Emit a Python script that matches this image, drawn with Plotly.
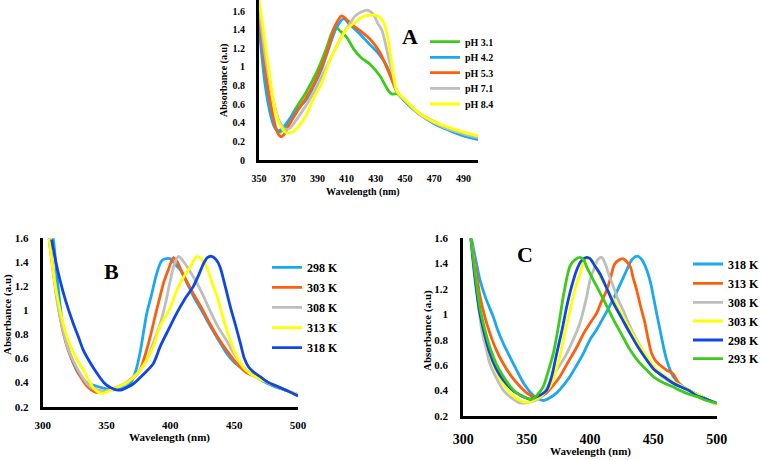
import plotly.graph_objects as go

W, H = 764, 460
SERIF = "Liberation Serif"

# ---------------- Panel A : pH ----------------
a_names = ["pH 3.1", "pH 4.2", "pH 5.3", "pH 7.1", "pH 8.4"]
a_colors = ["#3DCB1A", "#1AA8F0", "#FF5E0E", "#BEBEBE", "#FFFF00"]

a_wl_31 = [350, 354, 358, 362, 364.5, 368, 375, 382, 390, 396, 402, 406, 410, 415, 420, 426, 433, 438, 441, 445, 450, 460, 470, 480, 490, 500]
a_ab_31 = [1.50, 0.90, 0.52, 0.33, 0.30, 0.36, 0.55, 0.72, 0.96, 1.19, 1.43, 1.38, 1.32, 1.19, 1.10, 1.03, 0.90, 0.76, 0.71, 0.71, 0.63, 0.49, 0.40, 0.33, 0.28, 0.24]

a_wl_42 = [350, 354, 358, 361, 363, 366, 370, 376, 382, 388, 393, 398, 403, 408, 412, 418, 426, 432, 437.6, 441, 444.5, 450, 460, 470, 480, 490, 500]
a_ab_42 = [1.45, 0.83, 0.48, 0.34, 0.31, 0.34, 0.42, 0.54, 0.64, 0.81, 0.98, 1.21, 1.42, 1.52, 1.46, 1.37, 1.24, 1.14, 1.01, 0.88, 0.74, 0.63, 0.49, 0.39, 0.32, 0.26, 0.22]

a_wl_53 = [350, 354, 358, 362, 365, 367, 370, 376, 382, 388, 393, 398, 402, 406.7, 410, 415, 420, 426, 433, 440, 444.5, 450, 460, 470, 480, 490, 500]
a_ab_53 = [1.62, 1.01, 0.60, 0.32, 0.25, 0.27, 0.36, 0.52, 0.66, 0.83, 1.01, 1.23, 1.44, 1.55, 1.51, 1.44, 1.38, 1.30, 1.15, 0.90, 0.73, 0.64, 0.50, 0.41, 0.34, 0.29, 0.25]

a_wl_71 = [350, 354, 358.7, 363, 366, 368, 371, 376, 382, 388, 393, 400, 406.7, 412, 416, 420, 424, 428.6, 431, 434.3, 437, 439, 442, 444.5, 450, 460, 470, 480, 490, 500]
a_ab_71 = [1.65, 1.15, 0.72, 0.45, 0.36, 0.33, 0.34, 0.44, 0.58, 0.74, 0.90, 1.12, 1.33, 1.46, 1.55, 1.59, 1.61, 1.56, 1.48, 1.39, 1.22, 1.08, 0.90, 0.73, 0.64, 0.49, 0.40, 0.33, 0.28, 0.24]

a_wl_84 = [350, 353, 356.4, 361, 365, 369, 373, 377, 382, 387, 393, 398, 404.4, 410, 415.9, 421, 425, 431, 435.3, 437, 438.8, 440.5, 442.2, 444.5, 450, 460, 470, 480, 490, 500]
a_ab_84 = [1.72, 1.40, 1.01, 0.54, 0.36, 0.29, 0.30, 0.36, 0.47, 0.65, 0.83, 1.05, 1.26, 1.41, 1.48, 1.54, 1.555, 1.55, 1.48, 1.40, 1.26, 1.08, 0.90, 0.74, 0.65, 0.50, 0.41, 0.35, 0.30, 0.26]

a_x = [a_wl_31, a_wl_42, a_wl_53, a_wl_71, a_wl_84]
a_y = [a_ab_31, a_ab_42, a_ab_53, a_ab_71, a_ab_84]
a_xticks = [350, 370, 390, 410, 430, 450, 470, 490]
a_yticks = [0, 0.2, 0.4, 0.6, 0.8, 1, 1.2, 1.4, 1.6]

# ---------------- Panel B : temperature ----------------
b_names = ["298 K", "303 K", "308 K", "313 K", "318 K"]
b_colors = ["#1AA8F0", "#FF5E0E", "#BEBEBE", "#FFFF00", "#1046E8"]

b_wl_298 = [305, 308.3, 312, 316.2, 320, 324, 329, 334.5, 342.4, 349, 355.4, 362, 368.6, 373, 376.3, 379, 381.6, 385, 389.4, 393, 396, 400, 404, 407.7, 413, 418, 425, 431.2, 438, 444.3, 450, 457.3, 465, 475, 483.5, 492, 500]
b_ab_298 = [1.75, 1.59, 1.20, 0.84, 0.68, 0.56, 0.46, 0.40, 0.37, 0.35, 0.34, 0.35, 0.39, 0.50, 0.65, 0.82, 0.98, 1.12, 1.31, 1.41, 1.43, 1.43, 1.38, 1.34, 1.23, 1.12, 0.99, 0.87, 0.75, 0.64, 0.57, 0.51, 0.46, 0.40, 0.36, 0.33, 0.29]

b_wl_303 = [305, 308, 312, 316, 320, 324, 329, 334, 338, 342, 346, 350, 355, 360, 366, 371, 376, 380, 384.2, 388, 392, 395, 398.5, 402.4, 405, 410, 418, 425, 431, 437, 444, 452, 460, 467.8, 475, 483.5, 492, 500]
b_ab_303 = [1.60, 1.35, 1.05, 0.82, 0.67, 0.57, 0.46, 0.38, 0.34, 0.32, 0.32, 0.33, 0.35, 0.37, 0.40, 0.44, 0.50, 0.62, 0.78, 0.95, 1.12, 1.24, 1.34, 1.44, 1.41, 1.30, 1.14, 1.01, 0.89, 0.78, 0.67, 0.56, 0.48, 0.45, 0.41, 0.37, 0.33, 0.30]

b_wl_308 = [305, 308, 312, 316, 320, 324, 329, 334, 338, 343, 348, 353, 358, 364, 370, 376, 381.6, 387, 392, 396, 400, 403, 406.4, 410, 418, 425, 431, 437, 444, 450, 457, 465, 475, 483.5, 492, 500]
b_ab_308 = [1.60, 1.33, 1.03, 0.83, 0.68, 0.58, 0.48, 0.40, 0.36, 0.34, 0.33, 0.34, 0.36, 0.39, 0.44, 0.50, 0.59, 0.74, 0.89, 1.05, 1.25, 1.38, 1.45, 1.41, 1.28, 1.14, 1.00, 0.87, 0.75, 0.64, 0.53, 0.46, 0.41, 0.37, 0.33, 0.30]

b_wl_313 = [305, 310, 316, 320, 324, 328, 331.8, 336, 341, 346.3, 352, 358, 365.9, 371, 376, 381, 386.7, 392, 399.8, 405.1, 410, 415.5, 420.8, 424, 428.6, 432, 436.5, 441, 446.9, 452, 457, 462, 470, 483.5, 492, 500]
b_ab_313 = [1.60, 1.20, 0.89, 0.75, 0.65, 0.57, 0.51, 0.42, 0.34, 0.31, 0.33, 0.36, 0.40, 0.44, 0.50, 0.58, 0.70, 0.87, 1.02, 1.17, 1.27, 1.36, 1.45, 1.43, 1.36, 1.25, 1.12, 0.95, 0.75, 0.62, 0.53, 0.48, 0.43, 0.37, 0.33, 0.30]

b_wl_318 = [307, 310, 313.6, 318, 324, 328, 331.8, 337, 342.4, 348, 353, 358, 362, 366, 371, 378, 386.7, 392, 398.5, 405.1, 411, 418, 422, 426, 429, 432.5, 436, 439, 443, 447, 451, 454.8, 458, 461.3, 465, 470.4, 477, 483.5, 492, 500]
b_ab_318 = [1.59, 1.42, 1.25, 1.08, 0.89, 0.78, 0.67, 0.57, 0.48, 0.40, 0.36, 0.34, 0.34, 0.36, 0.39, 0.46, 0.56, 0.70, 0.84, 0.98, 1.09, 1.20, 1.29, 1.39, 1.44, 1.45, 1.42, 1.36, 1.20, 1.03, 0.88, 0.73, 0.60, 0.53, 0.49, 0.45, 0.40, 0.37, 0.33, 0.29]

b_x = [b_wl_298, b_wl_303, b_wl_308, b_wl_313, b_wl_318]
b_y = [b_ab_298, b_ab_303, b_ab_308, b_ab_313, b_ab_318]

# ---------------- Panel C : temperature ----------------
c_names = ["318 K", "313 K", "308 K", "303 K", "298 K", "293 K"]
c_colors = ["#1AA8F0", "#FF5E0E", "#BEBEBE", "#FFFF00", "#1046E8", "#3DCB1A"]

c_wl_318 = [306.6, 310, 313.2, 318, 323.7, 327, 331.6, 337, 342.1, 348, 355.3, 360, 363.1, 368, 373.7, 379, 384.2, 389, 394.7, 400, 405.3, 412, 418.4, 424, 429, 433, 437.3, 441, 444.8, 448, 450, 455.2, 460.5, 465.7, 471, 478, 484, 492, 500]
c_ab_318 = [1.59, 1.42, 1.27, 1.12, 0.98, 0.88, 0.77, 0.66, 0.56, 0.45, 0.36, 0.33, 0.32, 0.34, 0.38, 0.44, 0.51, 0.59, 0.69, 0.80, 0.88, 1.00, 1.12, 1.24, 1.35, 1.43, 1.46, 1.43, 1.35, 1.24, 1.14, 0.88, 0.64, 0.51, 0.45, 0.40, 0.37, 0.33, 0.29]

c_wl_313 = [306, 310, 313.2, 317, 321, 326, 331.6, 338, 344.8, 350, 355.3, 360, 365.8, 371, 376.3, 382, 389.5, 395, 400, 405.3, 409, 413.2, 416, 419.7, 425.8, 431.6, 434, 436.9, 440, 443.4, 446, 448.7, 452, 455.2, 460.5, 465.7, 468, 471, 478, 484, 492, 500]
c_ab_313 = [1.60, 1.35, 1.14, 0.98, 0.85, 0.72, 0.61, 0.51, 0.43, 0.38, 0.35, 0.35, 0.38, 0.44, 0.51, 0.61, 0.74, 0.85, 0.93, 1.01, 1.10, 1.19, 1.28, 1.40, 1.44, 1.38, 1.29, 1.19, 1.06, 0.93, 0.80, 0.69, 0.63, 0.60, 0.56, 0.53, 0.49, 0.44, 0.40, 0.37, 0.33, 0.29]

c_wl_308 = [306, 310, 314.5, 318, 321, 326, 331.6, 338, 344.8, 348, 354, 360.5, 366, 373.7, 380, 386.8, 392, 397.4, 400, 404, 406, 409.2, 412, 415, 418.4, 422, 426.3, 430, 434.2, 439, 444.8, 452, 458, 465, 471, 478, 484, 492, 500]
c_ab_308 = [1.60, 1.25, 0.88, 0.73, 0.61, 0.50, 0.40, 0.34, 0.30, 0.30, 0.31, 0.34, 0.42, 0.56, 0.66, 0.80, 0.93, 1.14, 1.27, 1.38, 1.43, 1.45, 1.40, 1.31, 1.22, 1.12, 1.03, 0.94, 0.85, 0.76, 0.66, 0.56, 0.50, 0.46, 0.43, 0.40, 0.37, 0.33, 0.29]

c_wl_303 = [306, 310, 314, 318, 322, 327, 332, 338, 343, 347.4, 352, 357, 362, 368.4, 373, 376.3, 380, 384.2, 388, 392.1, 396, 400, 404, 408, 413, 418.4, 425, 431.6, 438, 444.8, 451, 458, 465, 471, 478, 484, 492, 500]
c_ab_303 = [1.60, 1.25, 0.95, 0.78, 0.65, 0.53, 0.44, 0.37, 0.33, 0.31, 0.31, 0.33, 0.36, 0.43, 0.55, 0.67, 0.85, 1.03, 1.19, 1.32, 1.43, 1.44, 1.39, 1.30, 1.21, 1.12, 1.00, 0.88, 0.77, 0.67, 0.58, 0.52, 0.47, 0.44, 0.40, 0.37, 0.33, 0.29]

c_wl_298 = [306, 309, 313, 317, 321, 326, 331.6, 338, 342, 347.4, 352.6, 358, 362, 365.8, 370, 373.7, 378, 381.6, 385.5, 389.5, 393, 397.4, 400, 404, 407.9, 413, 418.4, 425, 431.6, 438, 444.8, 451, 457.9, 465, 471, 478, 484, 492, 500]
c_ab_298 = [1.60, 1.30, 1.01, 0.83, 0.69, 0.57, 0.48, 0.41, 0.38, 0.35, 0.33, 0.35, 0.37, 0.40, 0.52, 0.69, 0.88, 1.06, 1.22, 1.35, 1.42, 1.45, 1.44, 1.38, 1.32, 1.21, 1.09, 0.97, 0.85, 0.74, 0.64, 0.56, 0.51, 0.46, 0.43, 0.40, 0.36, 0.33, 0.30]

c_wl_293 = [306, 309, 313, 317, 321, 326, 331.6, 338, 342, 347.4, 354, 358, 363.1, 367, 371, 375, 378.9, 382, 384.2, 388, 392, 395, 398, 405.3, 412, 418.4, 425, 431.6, 438, 444.8, 451, 457.9, 465, 471, 478, 484.2, 492, 500]
c_ab_293 = [1.60, 1.35, 1.06, 0.88, 0.74, 0.61, 0.51, 0.42, 0.38, 0.35, 0.33, 0.36, 0.43, 0.55, 0.69, 0.90, 1.14, 1.30, 1.38, 1.43, 1.45, 1.43, 1.36, 1.22, 1.09, 0.96, 0.84, 0.72, 0.63, 0.56, 0.50, 0.46, 0.43, 0.40, 0.37, 0.35, 0.32, 0.30]

c_x = [c_wl_318, c_wl_313, c_wl_308, c_wl_303, c_wl_298, c_wl_293]
c_y = [c_ab_318, c_ab_313, c_ab_308, c_ab_303, c_ab_298, c_ab_293]

bc_xticks = [300, 350, 400, 450, 500]
bc_yticks = [0.2, 0.4, 0.6, 0.8, 1, 1.2, 1.4, 1.6]

# ---------------- geometry (pixels) ----------------
def px(xp):
    return xp / W

def py(yp):
    return 1 - yp / H

fig = go.Figure()

# (names, colors, xs, ys, xaxis, yaxis, legend x (px) and anchor, legend y centres, font size)
panels = [
    (a_names, a_colors, a_x, a_y, "x", "y", (425, "left"), [41.7, 57.3, 72.7, 88.3, 104.0], 10),
    (b_names, b_colors, b_x, b_y, "x2", "y2", (267, "left"), [267.3, 287.3, 307.3, 327.7, 347.7], 12),
    (c_names, c_colors, c_x, c_y, "x3", "y3", (764, "right"), [264.0, 283.3, 302.3, 321.0, 340.0, 358.7], 12),
]

legend_layouts = {}
lid = 0
for names, colors, xs, ys, xa, ya, (lx, lanchor), lys, lfs in panels:
    for name, col, xv, yv, ly in zip(names, colors, xs, ys, lys):
        lid += 1
        key = "legend" if lid == 1 else f"legend{lid}"
        fig.add_trace(go.Scatter(
            x=xv, y=yv, name=name, mode="lines",
            line=dict(color=col, width=2.8, shape="spline", smoothing=0.8),
            xaxis=xa, yaxis=ya, legend=key, showlegend=True,
        ))
        legend_layouts[key] = dict(
            x=px(lx), y=py(ly), xanchor=lanchor, yanchor="middle",
            bgcolor="rgba(0,0,0,0)", borderwidth=0, itemwidth=30,
            font=dict(family=SERIF, size=lfs, color="black", weight="bold"),
            itemclick=False, itemdoubleclick=False,
        )

axis_common = dict(showgrid=False, zeroline=False, showline=True, linecolor="black",
                   linewidth=3, ticks="", mirror=False, fixedrange=True, automargin=False)

fig.update_layout(
    width=W, height=H, margin=dict(l=0, r=0, t=0, b=0, autoexpand=False),
    paper_bgcolor="white", plot_bgcolor="white", showlegend=True,
    font=dict(family=SERIF, color="black"),
    # panel A
    xaxis=dict(domain=[px(259), px(478)], range=[350, 500], tickvals=a_xticks,
               anchor="y", ticklabelstandoff=7,
               tickfont=dict(family=SERIF, size=10, color="black", weight="bold"), **axis_common),
    yaxis=dict(domain=[py(160), 1.0], range=[0, 1.72], tickvals=a_yticks,
               anchor="x", ticklabelstandoff=9,
               tickfont=dict(family=SERIF, size=10, color="black", weight="bold"), **axis_common),
    # panel B
    xaxis2=dict(domain=[px(42.7), px(298)], range=[300, 500], tickvals=bc_xticks,
                anchor="y2", ticklabelstandoff=6,
                tickfont=dict(family=SERIF, size=11, color="black", weight="bold"), **axis_common),
    yaxis2=dict(domain=[py(406.7), py(238.3)], range=[0.2, 1.6], tickvals=bc_yticks,
                anchor="x2", ticklabelstandoff=9,
                tickfont=dict(family=SERIF, size=11, color="black", weight="bold"), **axis_common),
    # panel C
    xaxis3=dict(domain=[px(463.3), px(716.7)], range=[300, 500], tickvals=bc_xticks,
                anchor="y3", ticklabelstandoff=8,
                tickfont=dict(family=SERIF, size=14, color="black", weight="bold"), **axis_common),
    yaxis3=dict(domain=[py(415.7), py(238.3)], range=[0.2, 1.6], tickvals=bc_yticks,
                anchor="x3", ticklabelstandoff=10,
                tickfont=dict(family=SERIF, size=11, color="black", weight="bold"), **axis_common),
    **legend_layouts,
)

def label(text, x, y, size, angle=0):
    fig.add_annotation(text=text, x=px(x), y=py(y), xref="paper", yref="paper",
                       showarrow=False, textangle=angle, xanchor="center", yanchor="middle",
                       font=dict(family=SERIF, size=size, color="black", weight="bold"))

# panel letters
label("A", 410, 37, 22)
label("B", 112, 271, 22)
label("C", 525, 254, 22)
# axis titles
label("Wavelength (nm)", 363, 191.5, 10)
label("Absorbance (a.u)", 224, 80, 10, -90)
label("Wavelength (nm)", 169, 437.5, 11)
label("Absorbance (a.u)", 7, 315, 11, -90)
label("Wavelength (nm)", 590, 451.5, 11)
label("Absorbance (a.u)", 427, 331, 11, -90)

# the page body normally has an 8px margin; remove it so the 764x460 figure fills the window
fig.write_html("out.html", config={"displayModeBar": False},
               post_script="document.body.style.margin='0';document.body.style.overflow='hidden';")
